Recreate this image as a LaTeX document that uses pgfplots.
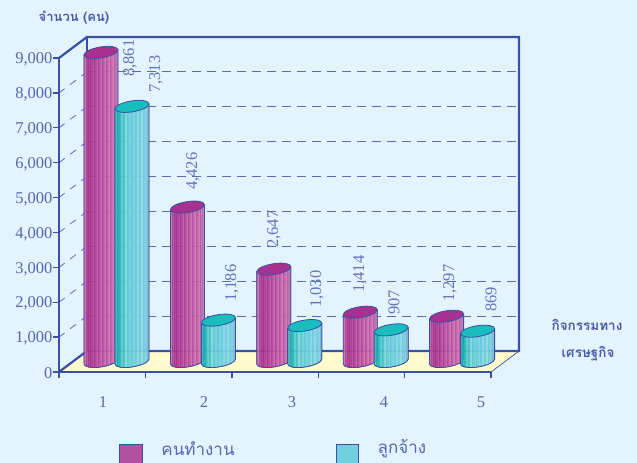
\documentclass[border=0pt]{standalone}
\usepackage{fontspec}
\usepackage{xcolor}
\usepackage{pgfplots}
\usepackage{pgfplotstable}
\pgfplotsset{compat=1.18}
\setmainfont{Liberation Serif}
\newfontfamily\thaifont[Script=Thai]{Loma}
\definecolor{bg}{HTML}{E3F4FE}
\definecolor{frame}{HTML}{3A50A5}
\definecolor{ink}{HTML}{5567AE}
\definecolor{valink}{HTML}{6475B8}
\definecolor{thaiink}{HTML}{4A5AA8}
\definecolor{floor}{HTML}{FFFBCF}
\definecolor{magtop}{HTML}{A6318F}
\definecolor{cyantop}{HTML}{18BDBD}
\definecolor{magswatch}{HTML}{B5509E}
\definecolor{cyanswatch}{HTML}{72CFDF}

% vertical stripes across the cylinder bodies, left to right
\definecolor{m0}{rgb}{.76,.42,.68}\definecolor{m1}{rgb}{.70,.27,.60}
\definecolor{m2}{rgb}{.66,.21,.56}\definecolor{m3}{rgb}{.66,.20,.56}
\definecolor{m4}{rgb}{.70,.26,.60}\definecolor{m5}{rgb}{.67,.21,.57}
\definecolor{m6}{rgb}{.73,.31,.63}\definecolor{m7}{rgb}{.69,.25,.59}
\definecolor{m8}{rgb}{.76,.36,.66}\definecolor{m9}{rgb}{.71,.28,.61}
\definecolor{m10}{rgb}{.78,.40,.68}\definecolor{m11}{rgb}{.73,.31,.63}
\definecolor{m12}{rgb}{.80,.44,.70}\definecolor{m13}{rgb}{.74,.34,.64}
\definecolor{m14}{rgb}{.80,.44,.70}\definecolor{m15}{rgb}{.75,.38,.65}
\definecolor{m16}{rgb}{.72,.46,.70}
\definecolor{c0}{rgb}{.30,.72,.76}\definecolor{c1}{rgb}{.10,.70,.70}
\definecolor{c2}{rgb}{.14,.72,.72}\definecolor{c3}{rgb}{.36,.78,.80}
\definecolor{c4}{rgb}{.25,.76,.78}\definecolor{c5}{rgb}{.50,.84,.85}
\definecolor{c6}{rgb}{.36,.79,.83}\definecolor{c7}{rgb}{.44,.81,.87}
\definecolor{c8}{rgb}{.38,.79,.85}\definecolor{c9}{rgb}{.46,.82,.88}
\definecolor{c10}{rgb}{.40,.80,.86}\definecolor{c11}{rgb}{.52,.84,.90}
\definecolor{c12}{rgb}{.42,.80,.86}\definecolor{c13}{rgb}{.55,.85,.90}
\definecolor{c14}{rgb}{.44,.80,.87}\definecolor{c15}{rgb}{.50,.80,.88}
\definecolor{c16}{rgb}{.46,.74,.84}

% one cylinder, hung from the plotted point; height comes from the value.
% tops sit 10.5 up and #3 across from the point (half the depth of the box)
\newcommand\cylinder[3]{%
  \pgfmathsetmacro\h{\val*0.034889}%
  \begin{scope}[x=1pt,y=1pt]
    \begin{scope}
      \clip (#3-17,8) -- (#3-17,8-\h) .. controls (#3-17,4.96-\h) and (#3-9.39,3.62-\h) ..
        (#3,5-\h) .. controls (#3+9.39,6.38-\h) and (#3+17,9.96-\h) .. (#3+17,13-\h) -- (#3+17,13) -- cycle;
      \foreach \i in {0,...,16}
        \fill[#1\i,fill opacity=.88] (#3-17+2*\i,-\h) rectangle (#3-15+2*\i,16);
    \end{scope}
    \draw[frame,line width=.8pt]
      (#3-17,8) -- (#3-17,8-\h) .. controls (#3-17,4.96-\h) and (#3-9.39,3.62-\h) ..
      (#3,5-\h) .. controls (#3+9.39,6.38-\h) and (#3+17,9.96-\h) .. (#3+17,13-\h) -- (#3+17,13);
    \draw[fill=#2,draw=frame,line width=.8pt]
      (#3-17,8) .. controls (#3-17,4.96) and (#3-9.39,3.62) .. (#3,5)
      .. controls (#3+9.39,6.38) and (#3+17,9.96) .. (#3+17,13)
      .. controls (#3+17,16.04) and (#3+9.39,17.38) .. (#3,16)
      .. controls (#3-9.39,14.62) and (#3-17,11.04) .. (#3-17,8) -- cycle;
  \end{scope}}

\pgfplotsset{
  cyl/.style={
    scatter,only marks,mark=*,mark size=0pt,point meta=y,
    visualization depends on={y \as \val},
    visualization depends on={\thisrow{lx} \as \lx},
    visualization depends on={\thisrow{ly} \as \ly},
    nodes near coords,
    every node near coord/.append style={xshift=\lx pt,yshift=\ly pt,rotate=90,anchor=west,
      inner sep=0pt,text=valink,font=\fontsize{16.5}{18}\selectfont,
      /pgf/number format/assume math mode=true,/pgf/number format/1000 sep={,}},
  },
}

\pgfplotstableread{
x v lx ly
1 8861 27.8 -14.2
2 4426 4.4 27.6
3 2647 -1.0 31.6
4 1414 -1.4 29.7
5 1297 2.2 24.7
}\workers
\pgfplotstableread{
x v lx ly
1 7313 53.8 23.8
2 1186 43.4 28.6
3 1030 42.0 28.1
4 907 32.6 25.4
5 869 43.2 29.7
}\employees

\begin{document}
\begin{tikzpicture}
\path[use as bounding box,fill=bg] (0,0) rectangle (637pt,463pt);
\begin{scope}[x=1pt,y=-1pt,shift={(0,463pt)}]
  % floor and walls of the box
  \fill[floor] (59,372) -- (87,351) -- (519,351) -- (491,372) -- cycle;
  \foreach \k in {1,...,8} {
    \draw[frame!85,line width=.8pt,dash pattern=on 9pt off 6pt]
      (87,351-34.889*\k) -- (519,351-34.889*\k);
    \draw[frame!85,line width=.8pt,dash pattern=on 7pt off 7pt]
      (59,372-34.889*\k) -- (87,351-34.889*\k);
  }
  \draw[frame,line width=.7pt] (491,372) -- (519,351);
  \draw[frame,line width=2.2pt,line join=miter]
    (59,58) -- (87,37) -- (519,37) -- (519,351) -- (87,351) -- (59,372);
  \draw[frame,line width=2.2pt] (87,37) -- (87,351);
  % titles and legend
  \node[text=thaiink,font=\thaifont\bfseries\fontsize{13}{15}\selectfont] at (74,18) {จำนวน (คน)};
  \node[text=thaiink,font=\thaifont\bfseries\fontsize{13.5}{15}\selectfont] at (587,325) {กิจกรรมทาง};
  \node[text=thaiink,font=\thaifont\bfseries\fontsize{13.5}{15}\selectfont] at (588,354) {เศรษฐกิจ};
  \fill[magswatch] (119,444) rectangle (142,463);
  \draw[frame,line width=.9pt] (119,463) -- (119,444) -- (142,444) -- (142,463);
  \fill[cyanswatch] (336,444) rectangle (358,463);
  \draw[frame,line width=.9pt] (336,463) -- (336,444) -- (358,444) -- (358,463);
  \node[text=ink,font=\thaifont\fontsize{17}{20}\selectfont] at (198,449) {คนทำงาน};
  \node[text=ink,font=\thaifont\fontsize{17}{20}\selectfont] at (402,449) {ลูกจ้าง};
\end{scope}
\begin{axis}[
  at={(59pt,91pt)}, anchor=south west, scale only axis,
  width=432pt, height=314pt, clip=false,
  xmin=0.5, xmax=5.5, ymin=0, ymax=9000,
  axis x line*=bottom, axis y line*=left,
  axis line style={frame,line width=2.2pt},
  tick style={frame,line width=1.4pt},
  tick align=outside, major tick length=6pt,
  xtick={0.5,1.5,2.5,3.5,4.5,5.5}, xticklabels={},
  extra x ticks={1.009,2.178,3.197,4.262,5.384},
  extra x tick labels={1,2,3,4,5},
  extra x tick style={major tick length=0pt,
    xticklabel style={yshift=-21pt}},
  ytick={0,1000,...,9000},
  /pgf/number format/assume math mode=true,
  /pgf/number format/1000 sep={,},
  tick label style={text=ink,font=\fontsize{16.5}{18}\selectfont},
  yticklabel style={xshift=3pt,yshift=-1.5pt},
]
\addplot[cyl,
  scatter/@pre marker code/.code={\cylinder{m}{magtop}{-1.2}}]
  table[x=x,y=v] {\workers};
\addplot[cyl,
  scatter/@pre marker code/.code={\cylinder{c}{cyantop}{29.8}}]
  table[x=x,y=v] {\employees};
\end{axis}
\end{tikzpicture}
\end{document}
